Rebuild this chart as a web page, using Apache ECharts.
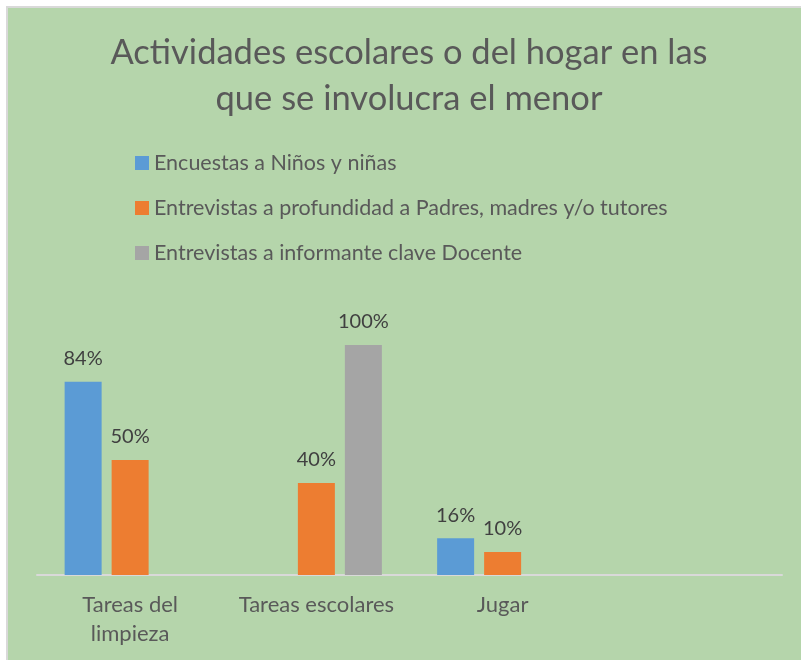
<!DOCTYPE html>
<html>
<head>
<meta charset="utf-8">
<script src="https://cdn.jsdelivr.net/npm/echarts@6/dist/echarts.min.js"></script>
<style>
  html, body { margin: 0; padding: 0; background: #ffffff; }
  #frame {
    position: absolute; left: 6px; top: 6px; width: 795px; height: 654px;
    border-left: 2px solid #d9d9d9; border-top: 2px solid #d9d9d9;
    background: #b5d5ab;
  }
  #chart { position: absolute; left: 0; top: 0; width: 801px; height: 660px; }
</style>
</head>
<body>
<div id="frame"></div>
<div id="chart"></div>
<script>
var categories = ['Tareas del\nlimpieza', 'Tareas escolares', 'Jugar', ''];
var seriesNames = [
  'Encuestas a Niños y niñas',
  'Entrevistas a profundidad a Padres, madres y/o tutores',
  'Entrevistas a informante clave Docente'
];
var ninos = [0.84, null, 0.16, null];
var padres = [0.50, 0.40, 0.10, null];
var docente = [null, 1.00, null, null];

var colors = ['#5b9bd5', '#ed7d31', '#a5a5a5'];
var fontFamily = 'Lato, "Noto Sans", sans-serif';

var chart = echarts.init(document.getElementById('chart'));

function makeSeries(name, data, color) {
  return {
    name: name,
    type: 'bar',
    data: data,
    barWidth: 37,
    barGap: '27%',
    itemStyle: { color: color },
    label: {
      show: true,
      position: 'top',
      distance: 13,
      color: '#404040',
      fontFamily: fontFamily,
      fontSize: 20,
      formatter: function (p) {
        return Math.round(p.value * 100) + '%';
      }
    }
  };
}

chart.setOption({
  backgroundColor: 'transparent',
  color: colors,
  title: {
    text: 'Actividades escolares o del hogar en las\nque se involucra el menor',
    left: 404,
    top: 25,
    textAlign: 'center',
    textStyle: {
      color: '#595959',
      fontFamily: fontFamily,
      fontWeight: 'normal',
      fontSize: 34.5,
      lineHeight: 46
    }
  },
  legend: {
    orient: 'vertical',
    left: 130,
    top: 147,
    itemWidth: 14,
    itemHeight: 14,
    itemGap: 23,
    icon: 'rect',
    textStyle: {
      color: '#595959',
      fontFamily: fontFamily,
      fontSize: 21.5,
      lineHeight: 22
    },
    data: seriesNames
  },
  grid: {
    left: 37,
    right: 19,
    top: 345,
    bottom: 85,
    containLabel: false
  },
  xAxis: {
    type: 'category',
    data: categories,
    axisLine: { lineStyle: { color: '#d9d9d9', width: 2 } },
    axisTick: { show: false },
    axisLabel: {
      interval: 0,
      margin: 15,
      color: '#595959',
      fontFamily: fontFamily,
      fontSize: 22,
      lineHeight: 29
    }
  },
  yAxis: {
    type: 'value',
    min: 0,
    max: 1,
    show: false,
    splitLine: { show: false }
  },
  series: [
    makeSeries(seriesNames[0], ninos, colors[0]),
    makeSeries(seriesNames[1], padres, colors[1]),
    makeSeries(seriesNames[2], docente, colors[2])
  ]
});
</script>
</body>
</html>
